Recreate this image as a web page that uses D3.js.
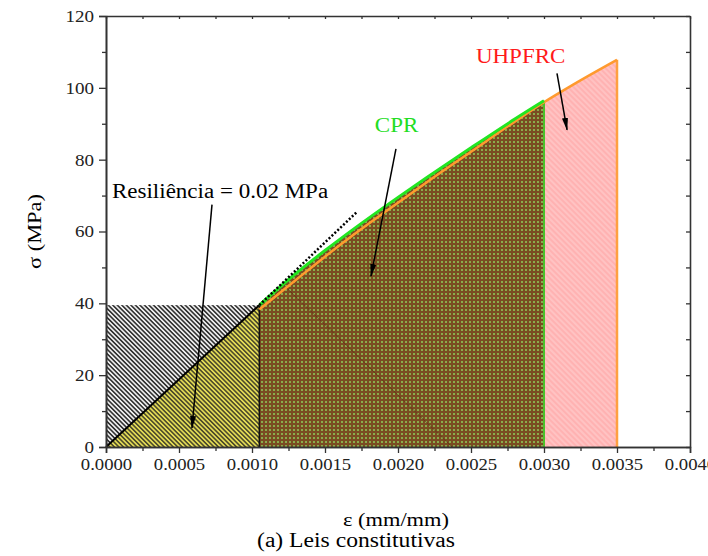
<!DOCTYPE html>
<html>
<head>
<meta charset="utf-8">
<script src="https://cdn.jsdelivr.net/npm/d3@7"></script>
<style>
  body { margin: 0; background: #fff; }
  svg { display: block; }
  svg text { font-family: "Liberation Serif", "Times New Roman", "DejaVu Serif", serif; }
</style>
</head>
<body>
<svg id="chart" width="708" height="556"></svg>
<script>
  // ---- data ----
  var elasticStrain = [0, 0.00105];
  var elasticStress = [0, 39.5];

  var tangentStrain = [0.00105, 0.00172];
  var tangentStress = [39.5, 65.5];

  var cprStrain = [0.00105, 0.0013, 0.0015, 0.0017, 0.0020, 0.0022, 0.0025, 0.0028, 0.0030];
  var cprStress = [39.5, 48.3, 54.7, 60.8, 69.5, 75.1, 83.3, 91.3, 96.4];

  var uhpStrain = [0.00105, 0.0013, 0.0015, 0.0017, 0.0020, 0.0022, 0.0025, 0.0028, 0.0030, 0.0032, 0.0035];
  var uhpStress = [38.3, 46.5, 53.0, 59.2, 68.0, 73.8, 82.2, 90.6, 96.0, 100.9, 107.8];

  var xMajorTicks = [0, 0.0005, 0.0010, 0.0015, 0.0020, 0.0025, 0.0030, 0.0035, 0.0040];
  var xMinorTicks = [0.00025, 0.00075, 0.00125, 0.00175, 0.00225, 0.00275, 0.00325, 0.00375];
  var yMajorTicks = [0, 20, 40, 60, 80, 100, 120];
  var yMinorTicks = [10, 30, 50, 70, 90, 110];

  // annotations: [text, strain, stress, colour, anchor]
  var labels = [
    ["Resiliência = 0.02 MPa", 0.000041, 69.3, "#000", "start"],
    ["CPR", 0.00199, 87.7, "#22dd22", "middle"],
    ["UHPFRC", 0.00284, 106.9, "#ff1a1a", "middle"]
  ];
  // arrows: [fromStrain, fromStress, toStrain, toStress]
  var arrows = [
    [0.000726, 67.5, 0.000589, 5.3],
    [0.001986, 83.0, 0.001815, 47.6],
    [0.003089, 104.0, 0.003158, 88.3]
  ];

  var W = 708, H = 556;
  var margin = { left: 106, right: 18, top: 16, bottom: 109 };
  var serif = "'Liberation Serif', 'Times New Roman', serif";

  var svg = d3.select("#chart");
  var defs = svg.append("defs");

  var x = d3.scaleLinear().domain([0, 0.004]).range([margin.left, W - margin.right]);
  var y = d3.scaleLinear().domain([0, 120]).range([H - margin.bottom, margin.top]);

  function zip(a, b) { return a.map(function(v, i) { return [v, b[i]]; }); }

  // the reference text is a little wider than plain Times, stretch it
  function widen(sel, k) {
    sel.each(function() {
      var len = this.getComputedTextLength();
      if (len > 0) {
        d3.select(this).attr("textLength", len * k).attr("lengthAdjust", "spacingAndGlyphs");
      }
    });
  }

  // ---- fill patterns ----
  function hatch(id, bg, fg, size, w) {
    var p = defs.append("pattern")
      .attr("id", id)
      .attr("patternUnits", "userSpaceOnUse")
      .attr("width", size).attr("height", size)
      .attr("patternTransform", "rotate(-45)");
    p.append("rect").attr("width", size).attr("height", size).attr("fill", bg);
    p.append("line").attr("x1", size / 2).attr("x2", size / 2)
      .attr("y1", 0).attr("y2", size)
      .attr("stroke", fg).attr("stroke-width", w);
  }
  hatch("hGray", "#eeeeee", "#262626", 3.2, 1.5);
  hatch("hYellow", "#e4dc56", "#1c1c1c", 3.2, 1.2);
  hatch("hPink", "#ffb2b2", "#ffcaca", 4, 1.4);

  var dots = defs.append("pattern")
    .attr("id", "pDots")
    .attr("patternUnits", "userSpaceOnUse")
    .attr("width", 4).attr("height", 4);
  dots.append("rect").attr("width", 4).attr("height", 4).attr("fill", "#7a4c22");
  dots.append("rect").attr("x", 1).attr("y", 1).attr("width", 2).attr("height", 2).attr("fill", "#8aac4c");

  var area = d3.area()
    .x(function(d) { return x(d[0]); })
    .y0(y(0))
    .y1(function(d) { return y(d[1]); });
  var line = d3.line()
    .x(function(d) { return x(d[0]); })
    .y(function(d) { return y(d[1]); });

  var g = svg.append("g");

  // resilience rectangle (gray hatch)
  g.append("rect")
    .attr("x", x(elasticStrain[0]))
    .attr("y", y(elasticStress[1]))
    .attr("width", x(elasticStrain[1]) - x(elasticStrain[0]))
    .attr("height", y(0) - y(elasticStress[1]))
    .attr("fill", "url(#hGray)");

  // elastic triangle
  g.append("path")
    .attr("d", area(zip(elasticStrain, elasticStress)))
    .attr("fill", "url(#hYellow)");

  // CPR area (brown dotted)
  g.append("path")
    .attr("d", area(zip(cprStrain, cprStress)))
    .attr("fill", "url(#pDots)");

  // UHPFRC extra area (pink)
  var uhpTail = zip(uhpStrain, uhpStress).filter(function(d) { return d[0] >= 0.003; });
  g.append("path")
    .attr("d", area(uhpTail))
    .attr("fill", "url(#hPink)");

  // faint stray line inside the brown area
  g.append("line")
    .attr("x1", x(0.00122)).attr("y1", y(45))
    .attr("x2", x(0.00237)).attr("y2", y(0))
    .attr("stroke", "#5a2410").attr("stroke-width", 1).attr("opacity", 0.5);

  // boundaries
  g.append("path")
    .attr("d", line(zip(elasticStrain, elasticStress)))
    .attr("fill", "none").attr("stroke", "#000").attr("stroke-width", 2);
  g.append("line")
    .attr("x1", x(elasticStrain[1])).attr("x2", x(elasticStrain[1]))
    .attr("y1", y(0)).attr("y2", y(elasticStress[1]))
    .attr("stroke", "#111").attr("stroke-width", 1.5);

  var cprEnd = cprStrain.length - 1, uhpEnd = uhpStrain.length - 1;
  g.append("line")
    .attr("x1", x(cprStrain[cprEnd])).attr("x2", x(cprStrain[cprEnd]))
    .attr("y1", y(0)).attr("y2", y(cprStress[cprEnd]))
    .attr("stroke", "#4cc02a").attr("stroke-width", 2);
  g.append("line")
    .attr("x1", x(uhpStrain[uhpEnd])).attr("x2", x(uhpStrain[uhpEnd]))
    .attr("y1", y(0)).attr("y2", y(uhpStress[uhpEnd]))
    .attr("stroke", "#ffa040").attr("stroke-width", 2.5);

  g.append("path")
    .attr("d", line.curve(d3.curveMonotoneX)(zip(uhpStrain, uhpStress)))
    .attr("fill", "none").attr("stroke", "#ff9a2e").attr("stroke-width", 2.5);
  g.append("path")
    .attr("d", line(zip(cprStrain, cprStress)))
    .attr("fill", "none").attr("stroke", "#22e622").attr("stroke-width", 3);

  // tangent (dotted)
  g.append("path")
    .attr("d", d3.line().x(function(d) { return x(d[0]); }).y(function(d) { return y(d[1]); })(zip(tangentStrain, tangentStress)))
    .attr("fill", "none").attr("stroke", "#000")
    .attr("stroke-width", 2.5).attr("stroke-dasharray", "2,2");

  // ---- axes ----
  var axisColor = "#333";
  function styleAxis(sel) {
    sel.attr("font-family", serif);
    sel.select(".domain").attr("stroke", axisColor).attr("stroke-width", 1.6);
    sel.selectAll(".tick line").attr("stroke", axisColor).attr("stroke-width", 1.3);
    sel.selectAll(".tick text").attr("fill", "#222")
      .style("font-size", "17px").style("font-family", serif);
  }

  var xAxis = svg.append("g").attr("transform", "translate(0," + y(0) + ")")
    .call(d3.axisBottom(x).tickValues(xMajorTicks).tickFormat(d3.format(".4f")).tickSize(6).tickPadding(5));
  styleAxis(xAxis);
  widen(xAxis.selectAll(".tick text"), 1.1);
  var xMinor = svg.append("g").attr("transform", "translate(0," + y(0) + ")")
    .call(d3.axisBottom(x).tickValues(xMinorTicks).tickFormat("").tickSize(4).tickSizeOuter(0));
  styleAxis(xMinor);

  var yAxis = svg.append("g").attr("transform", "translate(" + x(0) + ",0)")
    .call(d3.axisLeft(y).tickValues(yMajorTicks).tickSize(7).tickPadding(5));
  styleAxis(yAxis);
  widen(yAxis.selectAll(".tick text"), 1.12);
  var yMinor = svg.append("g").attr("transform", "translate(" + x(0) + ",0)")
    .call(d3.axisLeft(y).tickValues(yMinorTicks).tickFormat("").tickSize(4).tickSizeOuter(0));
  styleAxis(yMinor);

  var xTop = svg.append("g").attr("transform", "translate(0," + y(120) + ")")
    .call(d3.axisTop(x).tickValues(xMajorTicks.concat(xMinorTicks)).tickFormat("").tickSizeInner(-3).tickSizeOuter(0));
  styleAxis(xTop);
  var yRight = svg.append("g").attr("transform", "translate(" + x(0.004) + ",0)")
    .call(d3.axisRight(y).tickValues(yMajorTicks.concat(yMinorTicks)).tickFormat("").tickSizeInner(-4).tickSizeOuter(0));
  styleAxis(yRight);

  // axis titles
  var titles = svg.append("g").attr("font-family", serif);
  titles.append("text")
    .attr("x", (x(0) + x(0.004)) / 2 - 2).attr("y", 526)
    .attr("text-anchor", "middle").style("font-size", "19px")
    .text("ε (mm/mm)");
  titles.append("text")
    .attr("transform", "translate(41," + y(60) + ") rotate(-90)")
    .attr("text-anchor", "middle").style("font-size", "19px")
    .text("σ (MPa)");
  titles.append("text")
    .attr("x", W / 2 + 2).attr("y", 547)
    .attr("text-anchor", "middle").style("font-size", "20px")
    .text("(a) Leis constitutivas");
  widen(titles.selectAll("text"), 1.18);

  // ---- annotations ----
  defs.append("marker")
    .attr("id", "arrowHead")
    .attr("markerUnits", "userSpaceOnUse")
    .attr("viewBox", "0 -4 13 8")
    .attr("refX", 12).attr("refY", 0)
    .attr("markerWidth", 13).attr("markerHeight", 8)
    .attr("orient", "auto")
    .append("path").attr("d", "M0,-3L13,0L0,3Z").attr("fill", "#000");

  svg.selectAll(".arrow")
    .data(arrows)
    .enter().append("line")
      .attr("class", "arrow")
      .attr("x1", function(d) { return x(d[0]); })
      .attr("y1", function(d) { return y(d[1]); })
      .attr("x2", function(d) { return x(d[2]); })
      .attr("y2", function(d) { return y(d[3]); })
      .attr("stroke", "#000").attr("stroke-width", 1.5)
      .attr("marker-end", "url(#arrowHead)");

  var labelSel = svg.selectAll(".label")
    .data(labels)
    .enter().append("text")
      .attr("class", "label")
      .attr("x", function(d) { return x(d[1]); })
      .attr("y", function(d) { return y(d[2]); })
      .attr("fill", function(d) { return d[3]; })
      .attr("text-anchor", function(d) { return d[4]; })
      .style("font-family", serif)
      .style("font-size", "20px")
      .text(function(d) { return d[0]; });
  widen(labelSel, 1.15);
</script>
</body>
</html>
